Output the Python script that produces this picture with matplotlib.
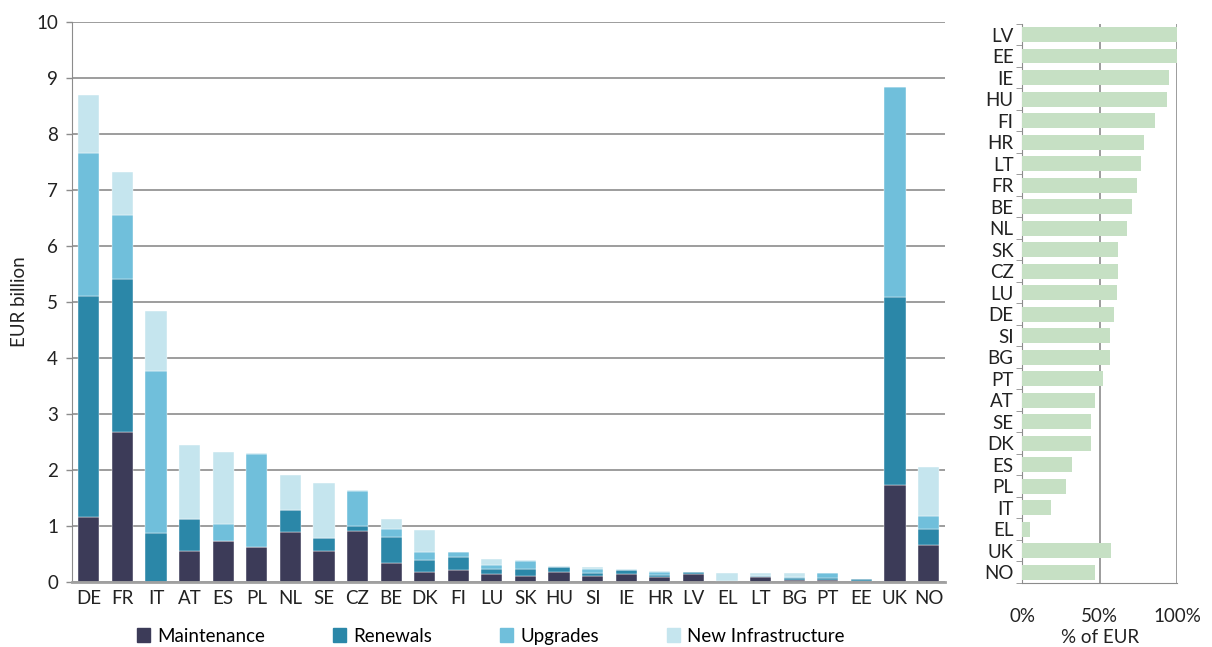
import numpy as np
import matplotlib
matplotlib.use("Agg")
import matplotlib.pyplot as plt
from matplotlib.patches import Patch

plt.rcParams['font.family'] = ['Lato', 'DejaVu Sans']

# left chart: expenditure by type, EUR billion
countries = ['DE', 'FR', 'IT', 'AT', 'ES', 'PL', 'NL', 'SE', 'CZ', 'BE', 'DK', 'FI', 'LU',
             'SK', 'HU', 'SI', 'IE', 'HR', 'LV', 'EL', 'LT', 'BG', 'PT', 'EE', 'UK', 'NO']
maintenance = [1.16, 2.68, 0.0, 0.55, 0.73, 0.63, 0.89, 0.55, 0.91, 0.33, 0.18, 0.22, 0.15,
               0.11, 0.18, 0.11, 0.14, 0.09, 0.14, 0.01, 0.09, 0.04, 0.04, 0.025, 1.73, 0.66]
renewals = [3.95, 2.73, 0.875, 0.58, 0.0, 0.0, 0.40, 0.24, 0.09, 0.47, 0.22, 0.23, 0.08,
            0.12, 0.09, 0.05, 0.07, 0.035, 0.03, 0.0, 0.02, 0.025, 0.03, 0.025, 3.36, 0.29]
upgrades = [2.55, 1.14, 2.90, 0.0, 0.30, 1.66, 0.0, 0.0, 0.62, 0.15, 0.14, 0.09, 0.07,
            0.15, 0.0, 0.07, 0.0, 0.045, 0.0, 0.0, 0.0, 0.015, 0.085, 0.0, 3.75, 0.23]
new_infra = [1.04, 0.77, 1.07, 1.32, 1.30, 0.02, 0.62, 0.98, 0.02, 0.17, 0.39, 0.0, 0.11,
             0.01, 0.02, 0.04, 0.03, 0.02, 0.0, 0.15, 0.045, 0.075, 0.0, 0.0, 0.0, 0.87]

# right chart: share in % of EUR
share_countries = ['LV', 'EE', 'IE', 'HU', 'FI', 'HR', 'LT', 'FR', 'BE', 'NL', 'SK', 'CZ', 'LU',
                   'DE', 'SI', 'BG', 'PT', 'AT', 'SE', 'DK', 'ES', 'PL', 'IT', 'EL', 'UK', 'NO']
share = [100, 100, 94.6, 93.8, 86, 78.4, 77, 74, 71, 68, 62, 62, 61,
         59, 56.5, 56.5, 52, 47, 44.4, 44.4, 32.3, 28.4, 18.5, 5, 57.3, 46.8]

colors = ['#3c3b58', '#2b87a8', '#70bfdb', '#c5e5ee']
labels = ['Maintenance', 'Renewals', 'Upgrades', 'New Infrastructure']
grid_c = '#8c8c8c'
fs = 13.5

fig = plt.figure(figsize=(12.12, 6.47), dpi=100)
ax = fig.add_axes([0.0594, 0.1005, 0.7206, 0.8655])
ax2 = fig.add_axes([0.8433, 0.099, 0.1279, 0.864])

x = np.arange(len(countries))
bottom = np.zeros(len(countries))
for vals, c in zip([maintenance, renewals, upgrades, new_infra], colors):
    ax.bar(x, vals, 0.63, bottom=bottom, color=c, edgecolor='white', linewidth=0.3, zorder=3)
    bottom += np.array(vals)

ax.set_xlim(-0.5, len(countries) - 0.5)
ax.set_ylim(0, 10)
ax.set_yticks(range(0, 11))
ax.set_xticks(x)
ax.set_xticklabels(countries)
ax.tick_params(axis='x', length=0, pad=6, labelsize=fs, colors='#222222')
ax.tick_params(axis='y', length=4, width=1, labelsize=fs, colors=grid_c, labelcolor='#222222', pad=6)
ax.yaxis.grid(True, color=grid_c, linewidth=1.2, zorder=0)
for s in ['top', 'right']:
    ax.spines[s].set_visible(False)
ax.spines['left'].set_color(grid_c)
ax.spines['bottom'].set_color('#a0a0a0')
ax.spines['bottom'].set_linewidth(2)
ax.spines['bottom'].set_zorder(4)
ax.set_ylabel('EUR billion', fontsize=fs, color='#222222', labelpad=6)

handles = [Patch(color=c) for c in colors]
fig.legend(handles, labels, loc='center', bbox_to_anchor=(0.405, 0.017), ncol=4,
           frameon=False, fontsize=fs, handlelength=0.7, handleheight=0.7,
           columnspacing=3.6, handletextpad=0.4)

# right chart
y = np.arange(len(share_countries))
ax2.barh(y, share, 0.68, color='#c6e0c4', zorder=3)
ax2.set_ylim(len(share_countries) - 0.5, -0.5)
ax2.set_xlim(0, 100)
ax2.set_yticks(y)
ax2.set_yticklabels(share_countries)
ax2.set_yticks(np.arange(-0.5, len(share_countries)), minor=True)
ax2.tick_params(axis='y', which='major', length=0, labelsize=fs, colors='#222222', pad=6)
ax2.tick_params(axis='y', which='minor', length=4, color=grid_c)
ax2.set_xticks([0, 50, 100])
ax2.set_xticklabels(['0%', '50%', '100%'])
ax2.tick_params(axis='x', length=0, labelsize=fs, colors='#222222', pad=18)
ax2.xaxis.grid(True, color=grid_c, linewidth=1.2, zorder=0)
ax2.spines['top'].set_visible(False)
ax2.spines['right'].set_visible(False)
ax2.spines['left'].set_color(grid_c)
ax2.spines['bottom'].set_color(grid_c)
ax2.set_xlabel('% of EUR', fontsize=fs, color='#222222', labelpad=3)

fig.savefig('out.png', dpi=100)
